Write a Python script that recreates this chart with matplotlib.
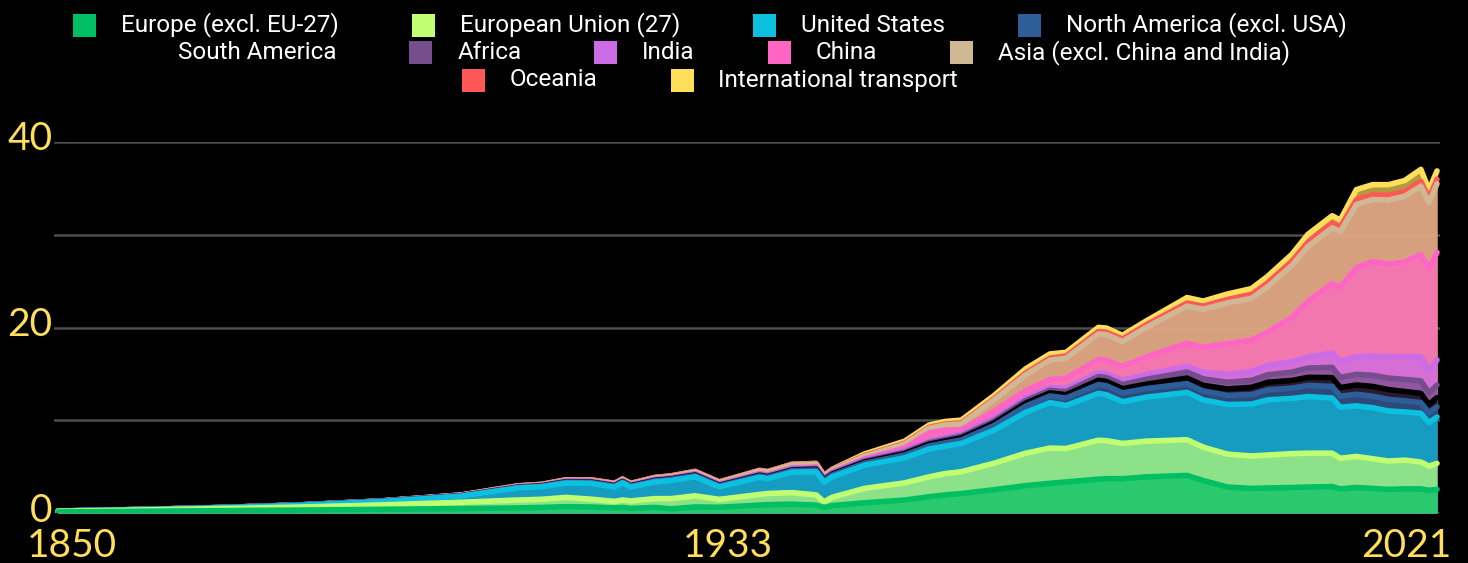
import matplotlib
matplotlib.use("Agg")
import matplotlib.pyplot as plt
from matplotlib.patches import Rectangle
from matplotlib.transforms import ScaledTranslation
import numpy as np

# ---- data (Gt CO2 per year) ----
years = [1850, 1860, 1870, 1880, 1890, 1900, 1907, 1910, 1913, 1916, 1919, 1920, 1921,
         1924, 1926, 1929, 1932, 1937, 1938, 1941, 1944, 1945, 1946, 1950, 1955, 1958,
         1960, 1962, 1966, 1970, 1973, 1975, 1979, 1980, 1982, 1985, 1990, 1992, 1995,
         1998, 2000, 2003, 2005, 2008, 2009, 2011, 2013, 2015, 2017, 2019, 2020, 2021]

europe_ex_eu = [0.12, 0.19, 0.26, 0.32, 0.40, 0.48, 0.55, 0.60, 0.68, 0.65, 0.55, 0.60, 0.50,
                0.60, 0.45, 0.65, 0.62, 0.85, 0.90, 0.95, 0.85, 0.60, 0.80, 1.10, 1.40, 1.75,
                1.95, 2.10, 2.50, 2.95, 3.20, 3.35, 3.65, 3.70, 3.70, 3.90, 4.05, 3.50, 2.80,
                2.65, 2.70, 2.75, 2.80, 2.85, 2.60, 2.75, 2.65, 2.55, 2.60, 2.60, 2.45, 2.55]
eu27 = [0.07, 0.13, 0.21, 0.32, 0.47, 0.68, 0.85, 0.88, 1.00, 0.85, 0.70, 0.80, 0.80,
        0.95, 1.10, 1.20, 0.85, 1.15, 1.20, 1.25, 1.10, 0.60, 0.90, 1.55, 1.85, 2.15,
        2.30, 2.35, 2.85, 3.50, 3.80, 3.60, 4.20, 4.10, 3.80, 3.85, 3.85, 3.60, 3.55,
        3.50, 3.55, 3.65, 3.65, 3.60, 3.30, 3.35, 3.20, 3.05, 3.10, 2.90, 2.60, 2.80]
usa = [0.02, 0.05, 0.10, 0.20, 0.37, 0.66, 1.30, 1.35, 1.55, 1.70, 1.55, 1.85, 1.50,
       1.80, 1.95, 2.05, 1.35, 1.85, 1.60, 2.20, 2.50, 2.10, 2.20, 2.50, 2.70, 3.00,
       2.95, 3.05, 3.55, 4.40, 4.90, 4.65, 5.05, 4.95, 4.50, 4.75, 5.10, 5.10, 5.35,
       5.60, 5.95, 5.95, 6.10, 5.95, 5.50, 5.45, 5.50, 5.40, 5.20, 5.25, 4.70, 5.00]
north_am_ex_usa = [0.0, 0.005, 0.01, 0.01, 0.02, 0.03, 0.05, 0.07, 0.09, 0.10, 0.10, 0.10, 0.09,
                   0.11, 0.12, 0.13, 0.10, 0.14, 0.14, 0.16, 0.18, 0.18, 0.19, 0.22, 0.30, 0.33,
                   0.36, 0.38, 0.50, 0.68, 0.72, 0.80, 0.95, 0.98, 0.95, 0.93, 0.95, 0.95, 0.98,
                   1.02, 1.08, 1.12, 1.20, 1.25, 1.20, 1.25, 1.25, 1.25, 1.20, 1.15, 1.05, 1.10]
south_am = [0.0, 0.0, 0.0, 0.002, 0.005, 0.01, 0.02, 0.03, 0.04, 0.04, 0.04, 0.04, 0.04,
            0.05, 0.05, 0.06, 0.05, 0.07, 0.07, 0.07, 0.08, 0.08, 0.09, 0.12, 0.16, 0.19,
            0.20, 0.22, 0.27, 0.32, 0.33, 0.36, 0.45, 0.46, 0.45, 0.47, 0.60, 0.62, 0.70,
            0.78, 0.82, 0.82, 0.88, 0.95, 0.93, 1.00, 1.05, 1.05, 1.00, 1.00, 0.90, 1.00]
africa = [0.0, 0.0, 0.0, 0.001, 0.003, 0.01, 0.02, 0.02, 0.03, 0.03, 0.03, 0.03, 0.03,
          0.04, 0.04, 0.05, 0.05, 0.06, 0.06, 0.07, 0.08, 0.08, 0.09, 0.11, 0.14, 0.16,
          0.17, 0.18, 0.22, 0.27, 0.28, 0.32, 0.40, 0.42, 0.45, 0.52, 0.65, 0.70, 0.72,
          0.75, 0.80, 0.90, 1.00, 1.10, 1.10, 1.15, 1.20, 1.25, 1.30, 1.35, 1.25, 1.35]
india = [0.0, 0.0, 0.002, 0.005, 0.01, 0.02, 0.03, 0.03, 0.04, 0.05, 0.05, 0.05, 0.05,
         0.06, 0.06, 0.07, 0.07, 0.09, 0.09, 0.10, 0.11, 0.10, 0.10, 0.13, 0.17, 0.20,
         0.22, 0.25, 0.30, 0.28, 0.30, 0.36, 0.40, 0.42, 0.45, 0.52, 0.60, 0.70, 0.85,
         0.95, 1.00, 1.10, 1.20, 1.55, 1.70, 1.90, 2.05, 2.30, 2.45, 2.60, 2.40, 2.70]
china = [0.0, 0.0, 0.0, 0.0, 0.002, 0.005, 0.01, 0.01, 0.02, 0.02, 0.03, 0.03, 0.03,
         0.03, 0.03, 0.04, 0.04, 0.05, 0.05, 0.06, 0.06, 0.04, 0.04, 0.08, 0.30, 0.85,
         0.80, 0.45, 0.75, 0.80, 0.85, 1.10, 1.45, 1.45, 1.50, 1.90, 2.50, 2.70, 3.30,
         3.40, 3.60, 4.80, 6.00, 7.50, 8.00, 9.60, 10.20, 10.00, 10.20, 11.00, 11.00, 11.60]
asia_other = [0.0, 0.0, 0.005, 0.01, 0.01, 0.03, 0.06, 0.07, 0.09, 0.10, 0.11, 0.12, 0.11,
              0.14, 0.15, 0.18, 0.18, 0.28, 0.30, 0.33, 0.32, 0.20, 0.20, 0.30, 0.42, 0.50,
              0.55, 0.62, 1.20, 1.70, 2.10, 2.15, 2.75, 2.75, 2.70, 3.20, 4.00, 4.10, 4.40,
              4.50, 4.90, 5.60, 5.90, 6.00, 6.00, 6.80, 6.70, 6.90, 7.10, 7.40, 7.10, 7.40]
oceania = [0.0, 0.002, 0.005, 0.008, 0.01, 0.02, 0.03, 0.03, 0.04, 0.04, 0.04, 0.04, 0.04,
           0.05, 0.05, 0.05, 0.04, 0.05, 0.05, 0.06, 0.06, 0.06, 0.06, 0.08, 0.09, 0.10,
           0.10, 0.11, 0.13, 0.20, 0.22, 0.23, 0.26, 0.26, 0.26, 0.28, 0.33, 0.33, 0.36,
           0.40, 0.42, 0.45, 0.47, 0.50, 0.50, 0.52, 0.50, 0.50, 0.50, 0.50, 0.48, 0.48]
intl_transport = [0.0, 0.0, 0.0, 0.0, 0.0, 0.0, 0.0, 0.0, 0.0, 0.0, 0.0, 0.0, 0.0,
                  0.0, 0.0, 0.0, 0.0, 0.0, 0.0, 0.0, 0.0, 0.0, 0.05, 0.17, 0.22, 0.25,
                  0.27, 0.30, 0.35, 0.45, 0.45, 0.40, 0.45, 0.45, 0.40, 0.42, 0.60, 0.55, 0.60,
                  0.65, 0.70, 0.75, 0.85, 0.80, 0.75, 1.10, 1.10, 1.15, 1.20, 1.30, 0.90, 0.90]

names = ["Europe (excl. EU-27)", "European Union (27)", "United States",
         "North America (excl. USA)", "South America", "Africa", "India", "China",
         "Asia (excl. China and India)", "Oceania", "International transport"]
colors = ["#00bf63", "#c1ff72", "#0cc0df", "#2e5e9a", "#000000", "#754c8c",
          "#cb6ce6", "#ff66c4", "#d0b894", "#ff5757", "#ffde59"]
series = [europe_ex_eu, eu27, usa, north_am_ex_usa, south_am, africa, india,
          china, asia_other, oceania, intl_transport]

x_ticks = [1850, 1933, 2021]
y_ticks = [0, 10, 20, 30, 40]
y_labels = ["0", "", "20", "", "40"]

YELLOW = "#ffde59"
W, H, DPI = 1468, 563, 100

fig = plt.figure(figsize=(W / DPI, H / DPI), dpi=DPI, facecolor="black")
ax = fig.add_axes([54 / W, 50 / H, (1440 - 54) / W, 371 / H])
ax.set_facecolor("black")

cum = np.cumsum(np.array(series), axis=0)
# areas all start at zero, top layer painted first, so the alpha stacks up
for i in reversed(range(len(series))):
    ax.fill_between(years, 0, cum[i], color=colors[i], alpha=0.7, lw=0, zorder=2)
for i in reversed(range(len(series))):
    ax.plot(years, cum[i], color=colors[i], lw=4.0, solid_joinstyle="round",
            solid_capstyle="round", zorder=3)

ax.set_xlim(1849.5, 2021.37)
ax.set_ylim(0, 40)
ax.set_yticks(y_ticks)
ax.set_yticklabels(y_labels)
ax.set_xticks(x_ticks)
ax.set_xticklabels([str(t) for t in x_ticks])
ax.grid(axis="y", color="#4d4d4d", lw=1.8, zorder=1)
ax.set_axisbelow(True)
for s in ax.spines.values():
    s.set_visible(False)
ax.tick_params(length=0, labelcolor=YELLOW, labelsize=28)
ax.tick_params(axis="y", pad=1)
ax.tick_params(axis="x", pad=11)
for lab in ax.get_xticklabels() + ax.get_yticklabels():
    lab.set_family(["Lato", "DejaVu Sans"])

# keep the end labels inside the figure
xl = ax.get_xticklabels()
xl[0].set_transform(xl[0].get_transform() + ScaledTranslation(14 / DPI, 0, fig.dpi_scale_trans))
xl[-1].set_transform(xl[-1].get_transform() + ScaledTranslation(-31 / DPI, 0, fig.dpi_scale_trans))
for lab in ax.get_yticklabels():
    lab.set_transform(lab.get_transform() + ScaledTranslation(0, 6 / DPI, fig.dpi_scale_trans))

# ---- legend: centred flow layout, three rows ----
renderer = fig.canvas.get_renderer()
rows = [[0, 1, 2, 3], [4, 5, 6, 7, 8], [9, 10]]
row_y = [25, 52.5, 80]
sq, sq_gap, item_gap, center_x = 23, 25, 73, 710
for row, yc in zip(rows, row_y):
    texts = [fig.text(0, 1 - yc / H, names[i], color="white", fontsize=17.5,
                      family=["Roboto", "DejaVu Sans"], va="center", ha="left")
             for i in row]
    widths = [t.get_window_extent(renderer).width for t in texts]
    total = sum(sq + sq_gap + w for w in widths) + item_gap * (len(row) - 1)
    x = center_x - total / 2
    for i, t, w in zip(row, texts, widths):
        fig.add_artist(Rectangle((x / W, 1 - (yc + sq / 2) / H), sq / W, sq / H,
                                 transform=fig.transFigure, color=colors[i], lw=0))
        t.set_x((x + sq + sq_gap) / W)
        x += sq + sq_gap + w + item_gap

fig.savefig("out.png", dpi=DPI, facecolor="black")
